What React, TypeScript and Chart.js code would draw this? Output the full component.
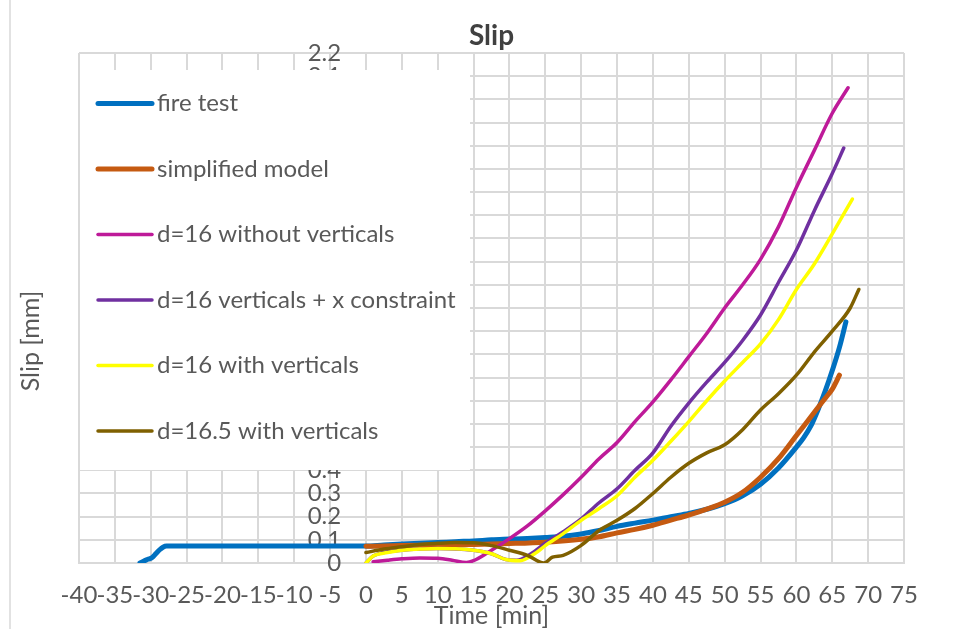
import React, { useEffect, useRef } from 'react';
import { Chart, registerables } from 'chart.js';

Chart.register(...registerables);

const seriesNames = [
  'fire test',
  'simplified model',
  'd=16 without verticals',
  'd=16 verticals + x constraint',
  'd=16 with verticals',
  'd=16.5 with verticals',
];
const seriesColors = ['#0070C0', '#C55A11', '#BE1A99', '#7030A0', '#FFFF00', '#7F6000'];
const seriesWidths = [5, 5, 3.5, 3.5, 3.5, 3.5];

const fireTestTime = [-31.5, -31, -30.4, -29.8, -29.3, -28.8, -28.3, -27.8, -20, -10, 0, 2.5, 5, 7.5, 10, 12.5, 15, 17.5, 20, 22.5, 25, 27.5, 30, 32.5, 35, 37.5, 40, 42.5, 45, 47.5, 50, 52.5, 55, 57.5, 60, 61, 62, 63, 64, 65, 66, 66.9];
const fireTestSlip = [0, 0.008, 0.016, 0.024, 0.04, 0.056, 0.068, 0.073, 0.073, 0.073, 0.073, 0.078, 0.082, 0.085, 0.088, 0.092, 0.095, 0.1, 0.103, 0.106, 0.11, 0.115, 0.125, 0.14, 0.158, 0.172, 0.185, 0.2, 0.214, 0.232, 0.256, 0.29, 0.34, 0.41, 0.5, 0.54, 0.59, 0.66, 0.74, 0.83, 0.93, 1.04];

const simplifiedTime = [0, 2.5, 5, 10, 15, 20, 25, 30, 32.5, 35, 37.5, 40, 42.5, 45, 47.5, 50, 52.5, 55, 57.5, 60, 62.5, 64, 65, 66];
const simplifiedSlip = [0.072, 0.073, 0.075, 0.078, 0.08, 0.084, 0.09, 0.102, 0.113, 0.13, 0.145, 0.163, 0.185, 0.207, 0.232, 0.262, 0.305, 0.37, 0.45, 0.55, 0.65, 0.71, 0.75, 0.81];

const noVertTime = [1, 3, 5, 7.5, 10, 12, 14, 15, 17, 20, 22.5, 25, 27.5, 30, 32.5, 35, 37.5, 40, 42.5, 45, 47.5, 50, 52.5, 55, 57.5, 60, 62.5, 65, 67.2];
const noVertSlip = [0.005, 0.012, 0.018, 0.022, 0.02, 0.012, 0.002, 0.01, 0.045, 0.105, 0.16, 0.225, 0.295, 0.37, 0.45, 0.52, 0.61, 0.695, 0.79, 0.89, 0.99, 1.1, 1.2, 1.31, 1.45, 1.62, 1.78, 1.94, 2.05];

const vertXTime = [0, 1, 5, 10, 15, 17.5, 19.5, 21, 23, 25, 27.5, 30, 32.5, 35, 37.5, 40, 42.5, 45, 47.5, 50, 52.5, 55, 57.5, 60, 62.5, 65, 66.6];
const vertXSlip = [0, 0.03, 0.055, 0.063, 0.055, 0.04, 0.015, 0.012, 0.04, 0.085, 0.135, 0.19, 0.26, 0.32, 0.4, 0.475, 0.59, 0.69, 0.78, 0.865, 0.96, 1.07, 1.21, 1.35, 1.52, 1.68, 1.79];

const withVertTime = [0, 1, 3, 5, 7.5, 10, 12.5, 15, 17.5, 19.5, 21.5, 23.5, 25, 27.5, 30, 32.5, 35, 37.5, 40, 42.5, 45, 47.5, 50, 52.5, 55, 57.5, 60, 62.5, 65, 67.8];
const withVertSlip = [0, 0.03, 0.045, 0.055, 0.06, 0.063, 0.062, 0.055, 0.04, 0.015, 0.01, 0.04, 0.075, 0.127, 0.184, 0.235, 0.29, 0.37, 0.443, 0.525, 0.61, 0.7, 0.785, 0.865, 0.945, 1.05, 1.18, 1.29, 1.42, 1.57];

const d165Time = [0, 2.5, 5, 7.5, 10, 12.5, 15, 17.5, 20, 22.5, 24.8, 26, 27.5, 30, 32.5, 35, 37.5, 40, 42.5, 45, 47.5, 50, 52.5, 55, 57.5, 60, 62.5, 65, 67.5, 68.7];
const d165Slip = [0.045, 0.06, 0.07, 0.08, 0.085, 0.088, 0.087, 0.075, 0.055, 0.033, 0.0, 0.025, 0.033, 0.076, 0.14, 0.184, 0.235, 0.3, 0.37, 0.43, 0.475, 0.51, 0.575, 0.66, 0.73, 0.81, 0.91, 1.0, 1.1, 1.18];

const seriesTimes = [fireTestTime, simplifiedTime, noVertTime, vertXTime, withVertTime, d165Time];
const seriesSlips = [fireTestSlip, simplifiedSlip, noVertSlip, vertXSlip, withVertSlip, d165Slip];

const chartTitle = 'Slip';
const xTitle = 'Time [min]';
const yTitle = 'Slip [mm]';
const xMin = -40;
const xMax = 75;
const xStep = 5;
const yMin = 0;
const yMax = 2.2;
const yStep = 0.1;
// the vertical axis crosses at time 0; its labels sit a little to the left of it
const yAxisLabelAt = -3.45;

const FONT = 'Lato, "Open Sans", sans-serif';
const TEXT = '#595959';
const GRID = '#D9D9D9';

const decor = {
  id: 'decor',
  beforeDraw(chart: any) {
    const { ctx, width, height } = chart;
    ctx.save();
    ctx.fillStyle = '#ffffff';
    ctx.fillRect(0, 0, width, height);
    ctx.strokeStyle = GRID;
    ctx.lineWidth = 1.5;
    ctx.beginPath();
    ctx.moveTo(10, 0);
    ctx.lineTo(10, height);
    ctx.stroke();
    ctx.restore();
  },
  beforeDatasetsDraw(chart: any) {
    const { ctx } = chart;
    ctx.save();
    ctx.fillStyle = '#ffffff';
    ctx.fillRect(80, 70, 390, 400);
    ctx.font = `24px ${FONT}`;
    ctx.textBaseline = 'middle';
    ctx.textAlign = 'left';
    seriesNames.forEach((name, i) => {
      const y = 103.5 + i * 65.5;
      ctx.strokeStyle = seriesColors[i];
      ctx.lineWidth = i < 2 ? 5 : 3.5;
      ctx.lineCap = 'round';
      ctx.beginPath();
      ctx.moveTo(98, y);
      ctx.lineTo(152, y);
      ctx.stroke();
      ctx.fillStyle = TEXT;
      ctx.fillText(name, 157, y);
    });
    ctx.restore();
  },
  afterDraw(chart: any) {
    const { ctx, chartArea } = chart;
    ctx.save();
    ctx.textAlign = 'center';
    ctx.textBaseline = 'middle';
    ctx.font = `bold 28px ${FONT}`;
    ctx.fillStyle = '#404040';
    ctx.fillText(chartTitle, (chartArea.left + chartArea.right) / 2, 36);
    ctx.fillStyle = TEXT;
    ctx.font = `25px ${FONT}`;
    ctx.fillText(xTitle, (chartArea.left + chartArea.right) / 2, 616);
    ctx.translate(31, 341);
    ctx.rotate(-Math.PI / 2);
    ctx.fillText(yTitle, 0, 0);
    ctx.restore();
  },
};

export default function App() {
  const ref = useRef<HTMLCanvasElement>(null);
  useEffect(() => {
    const canvas = ref.current;
    if (!canvas) return;
    const n = seriesNames.length;
    const datasets = seriesNames.map((name, i) => ({
      label: name,
      data: seriesTimes[i].map((t, j) => ({ x: t, y: seriesSlips[i][j] })),
      borderColor: seriesColors[i],
      backgroundColor: seriesColors[i],
      borderWidth: seriesWidths[i],
      pointRadius: 0,
      showLine: true,
      fill: false,
      cubicInterpolationMode: 'monotone' as const,
      borderCapStyle: 'round' as const,
      borderJoinStyle: 'round' as const,
      order: n - 1 - i,
    }));
    const chart = new Chart(canvas, {
      type: 'scatter',
      data: { datasets },
      options: {
        responsive: false,
        animation: false,
        devicePixelRatio: 1,
        layout: { padding: { left: 79, right: 69, top: 53, bottom: 0 } },
        plugins: {
          legend: { display: false },
          title: { display: false },
          tooltip: { enabled: false },
        },
        scales: {
          x: {
            type: 'linear',
            position: 'bottom',
            min: xMin,
            max: xMax,
            ticks: {
              stepSize: xStep,
              autoSkip: false,
              maxRotation: 0,
              minRotation: 0,
              padding: 18,
              color: TEXT,
              font: { family: FONT, size: 24 },
            },
            grid: { color: GRID, lineWidth: 2, drawTicks: false },
            border: { color: GRID, width: 2 },
            afterFit: (s: any) => {
              s.height = 66;
            },
          },
          y: {
            type: 'linear',
            position: { x: yAxisLabelAt } as any,
            min: yMin,
            max: yMax,
            ticks: {
              stepSize: yStep,
              autoSkip: false,
              padding: 0,
              color: TEXT,
              font: { family: FONT, size: 24 },
            },
            grid: { color: GRID, lineWidth: 2, drawTicks: false },
            border: { display: false },
          },
        },
      },
      plugins: [decor],
    });
    return () => chart.destroy();
  }, []);
  return (
    <div style={{ position: 'absolute', left: 0, top: 0, width: 973, height: 629, background: '#fff' }}>
      <canvas ref={ref} width={973} height={629} style={{ display: 'block' }} />
    </div>
  );
}
